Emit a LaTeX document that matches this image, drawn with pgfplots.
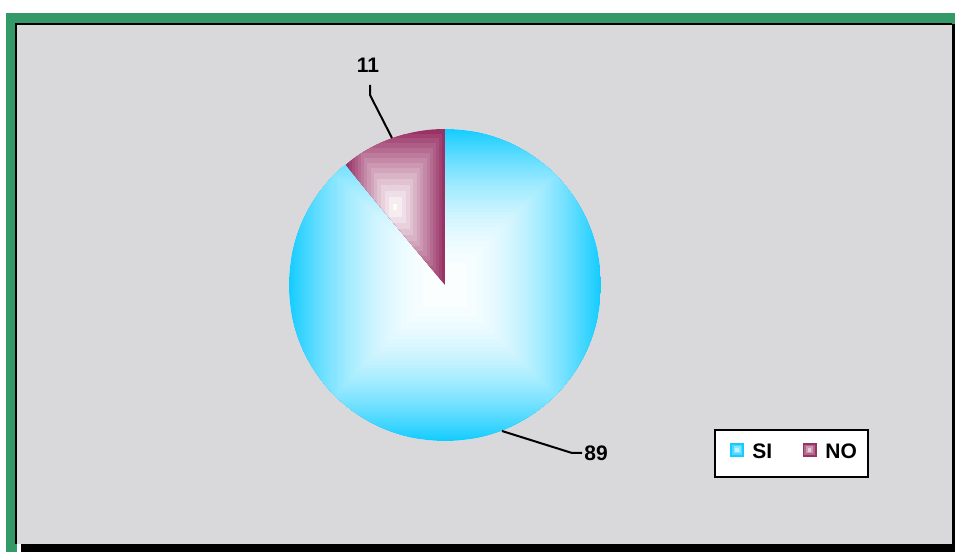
\documentclass[border=0pt]{standalone}
\usepackage{fontspec}
\setmainfont{Liberation Sans}
\usepackage{pgfplots}
\pgfplotsset{compat=1.18}
\usepackage{pgfplotstable}
\definecolor{sicol}{RGB}{20,204,255}
\definecolor{nocol}{RGB}{153,51,102}
\definecolor{framegreen}{RGB}{51,153,102}
\definecolor{marble}{RGB}{217,217,220}

\pgfplotstableread{
label value
SI 89
NO 11
}\piedata

\begin{document}
\begin{tikzpicture}
\pgfplotstablegetelem{0}{value}\of\piedata \let\vSI\pgfplotsretval
\pgfplotstablegetelem{1}{value}\of\piedata \let\vNO\pgfplotsretval
\pgfmathsetmacro\aEnd{90+3.6*\vNO}
\pgfmathsetmacro\noL{445+156*cos(\aEnd)}
\pgfmathsetmacro\noCx{(\noL+445)/2}
\pgfmathsetmacro\noHx{(445-\noL)/2}
\begin{axis}[x=0.5pt,y=0.5pt,xmin=0,xmax=955,ymin=0,ymax=552,
  hide axis,clip=false,scale only axis]
% frame
\fill[white] (axis cs:0,0) rectangle (axis cs:955,552);
\fill[framegreen] (axis cs:6,528) rectangle (axis cs:955,539);
\fill[framegreen] (axis cs:6,0) rectangle (axis cs:17,539);
\fill[black] (axis cs:21,0) rectangle (axis cs:955,8);
\fill[black] (axis cs:952,0) rectangle (axis cs:955,528);
\fill[marble] (axis cs:17,8) rectangle (axis cs:952,528);
\draw[black,line width=1pt] (axis cs:16,8) -- (axis cs:16,527.5) -- (axis cs:952,527.5);
% SI slice
\begin{scope}
\clip (axis cs:445,267) -- ++(\aEnd:78pt) arc[start angle=\aEnd,end angle=450,radius=78pt] -- cycle;
\fill[white] (axis cs:289,111) rectangle (axis cs:601,423);
\pgfplotsinvokeforeach{100,98,...,2}{
  \fill[sicol!#1!white] (axis cs:{445-156*(#1/100)^0.5},{267-156*(#1/100)^0.5}) rectangle (axis cs:{445+156*(#1/100)^0.5},{267+156*(#1/100)^0.5});
}
\end{scope}
% NO slice
\begin{scope}
\clip (axis cs:445,267) -- ++(90:78pt) arc[start angle=90,end angle=\aEnd,radius=78pt] -- cycle;
\pgfplotsinvokeforeach{100,93,...,2}{
  \fill[nocol!#1!white] (axis cs:{\noCx-\noHx*(#1/100)^0.85},{345-78*(#1/100)^0.85}) rectangle (axis cs:{\noCx+\noHx*(#1/100)^0.85},{345+78*(#1/100)^0.85});
}
\end{scope}
% leaders and labels
\draw[black,line width=1pt] (axis cs:370,467) -- (axis cs:370,457) -- (axis cs:392,414);
\node[font=\fontsize{10.5}{12}\selectfont\bfseries] at (axis cs:368,487) {11};
\draw[black,line width=1pt] (axis cs:502,121) -- (axis cs:572,99) -- (axis cs:582,99);
\node[font=\fontsize{10.5}{12}\selectfont\bfseries,anchor=west,inner sep=0pt] at (axis cs:584,99) {89};
% legend
\draw[black,line width=1pt,fill=white] (axis cs:715,75) rectangle (axis cs:868,122);
\pgfplotsinvokeforeach{100,75,50,25}{
  \fill[sicol!#1!white] (axis cs:{737-0.07*#1},{102-0.07*#1}) rectangle (axis cs:{737+0.07*#1},{102+0.07*#1});
  \fill[nocol!#1!white] (axis cs:{809.5-0.07*#1},{102-0.07*#1}) rectangle (axis cs:{809.5+0.07*#1},{102+0.07*#1});
}
\node[font=\fontsize{10.5}{12}\selectfont\bfseries,anchor=west,inner sep=0pt] at (axis cs:752,101) {SI};
\node[font=\fontsize{10.5}{12}\selectfont\bfseries,anchor=west,inner sep=0pt] at (axis cs:825,101) {NO};
\end{axis}
\end{tikzpicture}
\end{document}
